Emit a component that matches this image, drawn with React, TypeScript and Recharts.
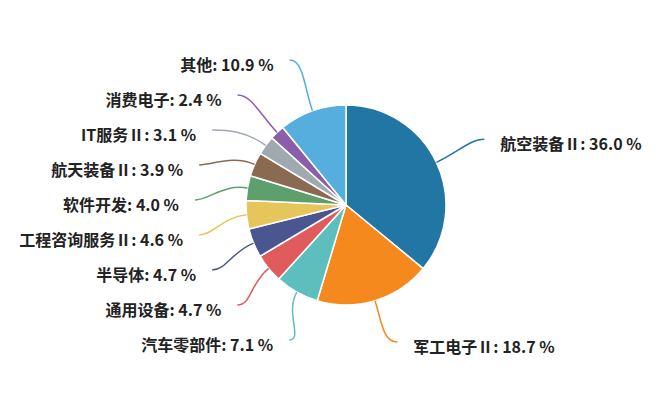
import React from 'react';
import { PieChart, Pie, Cell } from 'recharts';

const names = ['航空装备Ⅱ', '军工电子Ⅱ', '汽车零部件', '通用设备', '半导体', '工程咨询服务Ⅱ', '软件开发', '航天装备Ⅱ', 'IT服务Ⅱ', '消费电子', '其他'];
const values = [36.0, 18.7, 7.1, 4.7, 4.7, 4.6, 4.0, 3.9, 3.1, 2.4, 10.9];
const colors = ['#2276a3', '#f5891d', '#5cbfbe', '#e05c5c', '#4a5690', '#e6c65b', '#5e9f6e', '#8a6a50', '#a0a9b2', '#8a5eab', '#56aede'];

const data = names.map((name, i) => ({ name, value: values[i] }));

const W = 671;
const H = 399;
const CX = 346;
const CY = 205;
const R = 100;
const RL = 154;
const GAP = 35;
const LIMIT = 137;
const RE = 151;
const EY = -5;

type Lay = { mid: number; dy: number; ex: number; side: number };

function computeLayout(): Lay[] {
  const total = values.reduce((a, b) => a + b, 0);
  let cum = 0;
  const lays: Lay[] = values.map((v) => {
    const mid = 90 - ((cum + v / 2) / total) * 360;
    cum += v;
    const rad = (mid * Math.PI) / 180;
    const side = Math.cos(rad) >= 0 ? 1 : -1;
    return { mid, dy: -Math.sin(rad) * RL, ex: 0, side };
  });
  [1, -1].forEach((s) => {
    const idx = lays.map((l, i) => i).filter((i) => lays[i].side === s).sort((a, b) => lays[a].dy - lays[b].dy);
    for (let k = 1; k < idx.length; k++) {
      const prev = lays[idx[k - 1]].dy;
      if (lays[idx[k]].dy < prev + GAP) lays[idx[k]].dy = prev + GAP;
    }
    if (idx.length) {
      const last = idx[idx.length - 1];
      if (lays[last].dy > LIMIT) lays[last].dy = LIMIT;
      for (let k = idx.length - 2; k >= 0; k--) {
        const nxt = lays[idx[k + 1]].dy;
        if (lays[idx[k]].dy > nxt - GAP) lays[idx[k]].dy = nxt - GAP;
      }
    }
  });
  lays.forEach((l) => {
    const d = l.dy - EY;
    l.ex = l.side * Math.sqrt(Math.max(RE * RE - d * d, 0));
  });
  return lays;
}

const layout = computeLayout();

const renderLabel = (props: any) => {
  const { cx, cy, outerRadius, midAngle, name, value } = props;
  const i = names.indexOf(name);
  const lay = layout[i];
  const color = colors[i];
  const rad = (midAngle * Math.PI) / 180;
  const cos = Math.cos(rad);
  const sin = Math.sin(rad);
  const x0 = cx + cos * outerRadius;
  const y0 = cy - sin * outerRadius;
  const x1 = cx + cos * (outerRadius + 24);
  const y1 = cy - sin * (outerRadius + 24);
  const ex = cx + lay.ex;
  const ey = cy + lay.dy;
  const x2 = ex - lay.side * 14;
  const path = `M${x0},${y0} C${x1},${y1} ${x2},${ey} ${ex},${ey}`;
  const tx = ex + lay.side * 16;
  return (
    <g key={`lab-${i}`}>
      <path d={path} stroke={color} strokeWidth={1.5} fill="none" />
      <text
        x={tx}
        y={ey + 4}
        textAnchor={lay.side > 0 ? 'start' : 'end'}
        dominantBaseline="central"
        fontSize={16}
        fontWeight="bold"
        fill="#222"
        fontFamily="'Noto Sans CJK SC', 'Noto Sans', sans-serif"
      >
        {`${name}: ${Number(value).toFixed(1)} %`}
      </text>
    </g>
  );
};

export default function App() {
  return (
    <div style={{ position: 'absolute', left: 0, top: 0, width: W, height: H, background: '#fff' }}>
      <PieChart width={W} height={H} margin={{ top: 0, right: 0, bottom: 0, left: 0 }}>
        <Pie
          data={data}
          dataKey="value"
          nameKey="name"
          cx={CX}
          cy={CY}
          outerRadius={R}
          startAngle={90}
          endAngle={-270}
          stroke="#fff"
          strokeWidth={1.5}
          label={renderLabel}
          labelLine={false}
          isAnimationActive={false}
        >
          {data.map((d, i) => (
            <Cell key={d.name} fill={colors[i]} />
          ))}
        </Pie>
      </PieChart>
    </div>
  );
}
